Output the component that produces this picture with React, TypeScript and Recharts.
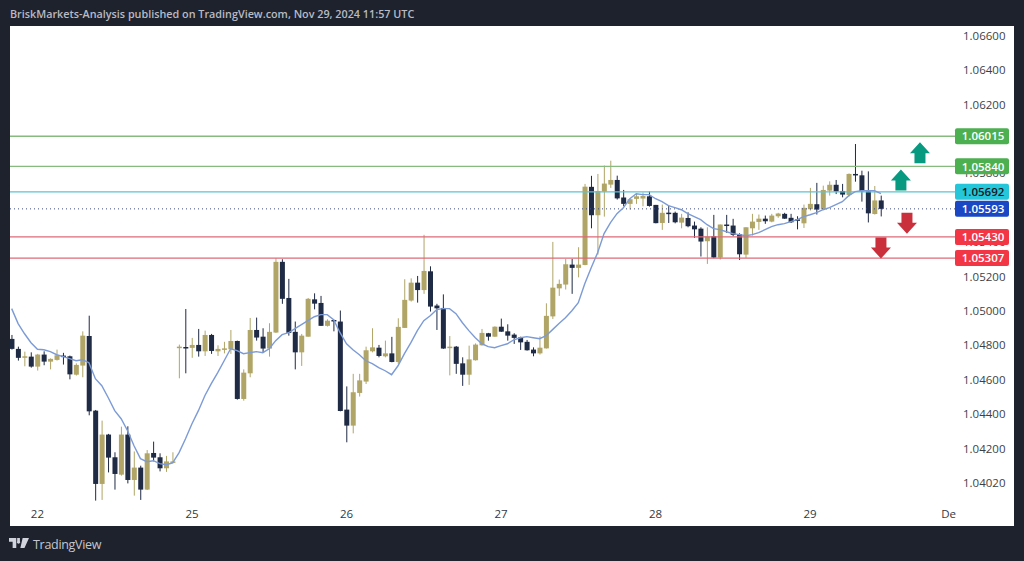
import React from "react";
import { ComposedChart, Bar, Line, XAxis, YAxis, ReferenceLine, ReferenceDot } from "recharts";

// prices in points (1 point = 0.00001), one entry per hourly candle
const opens = [
  104837, 104779, 104730, 104734, 104676, 104746, 104705, 104715, 104740, 104736, 104629, 104682,
  104854, 104420, 103994, 104281, 104149, 104048, 104281, 104017, 104089, 103961, 104174, 104149,
  104085, 104122, 104788, 104790, 104785, 104802, 104765, 104860, 104765, 104777, 104777, 104825,
  104488, 104637, 104889, 104850, 104781, 104874, 105285, 105075, 104878, 104759, 104850, 105067,
  105046, 104913, 104947, 104938, 104426, 104333, 104523, 104589, 104765, 104786, 104736, 104753,
  104703, 104901, 105060, 105164, 105121, 105230, 105031, 105017, 104786, 104792, 104695, 104629,
  104713, 104800, 104870, 104850, 104908, 104881, 104862, 104846, 104820, 104775, 104753, 104782,
  104968, 105131, 105153, 105269, 105250, 105267, 105721, 105556, 105693, 105734, 105761, 105659,
  105622, 105651, 105653, 105666, 105616, 105511, 105571, 105570, 105513, 105540, 105496, 105478,
  105405, 105434, 105310, 105502, 105496, 105445, 105327, 105480, 105517, 105536, 105519, 105550,
  105564, 105541, 105532, 105509, 105591, 105620, 105591, 105699, 105733, 105697, 105674, 105796,
  105788, 105695, 105563, 105642,
];
const closes = [
  104779, 104727, 104736, 104676, 104746, 104705, 104721, 104742, 104734, 104631, 104686, 104856,
  104416, 103994, 104281, 104147, 104052, 104281, 104017, 104089, 103961, 104172, 104147, 104085,
  104125, 104125, 104792, 104785, 104802, 104765, 104860, 104767, 104779, 104782, 104825, 104488,
  104641, 104889, 104845, 104781, 104878, 105285, 105070, 104872, 104759, 104856, 105070, 105042,
  104913, 104943, 104943, 104418, 104333, 104527, 104596, 104771, 104788, 104738, 104753, 104703,
  104907, 105064, 105164, 105121, 105232, 105025, 105015, 104781, 104792, 104692, 104629, 104718,
  104804, 104872, 104850, 104908, 104879, 104856, 104843, 104817, 104771, 104753, 104786, 104971,
  105135, 105157, 105271, 105250, 105269, 105722, 105556, 105697, 105740, 105761, 105654, 105622,
  105649, 105666, 105668, 105610, 105510, 105570, 105567, 105515, 105542, 105492, 105474, 105403,
  105432, 105310, 105502, 105494, 105442, 105329, 105486, 105519, 105536, 105521, 105554, 105566,
  105536, 105515, 105525, 105599, 105622, 105589, 105703, 105733, 105694, 105676, 105796, 105788,
  105695, 105567, 105642, 105593,
];
const highs = [
  104860, 104792, 104763, 104759, 104750, 104765, 104724, 104775, 104756, 104740, 104695, 104881,
  104972, 104424, 104362, 104285, 104178, 104327, 104329, 104183, 104100, 104191, 104240, 104172,
  104157, 104178, 104804, 105011, 104843, 104895, 104885, 104866, 104800, 104820, 104889, 104827,
  104660, 104959, 104961, 104899, 104928, 105306, 105300, 105186, 104938, 104866, 105075, 105102,
  105087, 104951, 104949, 105002, 104561, 104634, 104634, 104792, 104899, 104802, 104827, 104849,
  104957, 105184, 105189, 105203, 105442, 105259, 105041, 105096, 104854, 104796, 104730, 104798,
  104811, 104895, 104872, 104910, 104955, 104922, 104870, 104850, 104831, 104788, 104852, 105044,
  105401, 105182, 105302, 105302, 105370, 105738, 105785, 105796, 105845, 105873, 105786, 105703,
  105654, 105680, 105688, 105694, 105616, 105618, 105612, 105577, 105564, 105573, 105519, 105486,
  105486, 105558, 105502, 105558, 105535, 105451, 105486, 105564, 105560, 105554, 105564, 105570,
  105570, 105564, 105550, 105618, 105715, 105744, 105728, 105753, 105761, 105738, 105799, 105970,
  105815, 105811, 105726, 105670,
];
const lows = [
  104775, 104711, 104678, 104670, 104653, 104684, 104660, 104711, 104688, 104602, 104624, 104614,
  104393, 103897, 103901, 104061, 103961, 104042, 103997, 103926, 103901, 103959, 104125, 104067,
  104064, 104114, 104608, 104637, 104727, 104734, 104738, 104750, 104738, 104753, 104750, 104484,
  104478, 104614, 104827, 104756, 104734, 104872, 105041, 104856, 104660, 104680, 104850, 105009,
  104913, 104909, 104881, 104416, 104236, 104288, 104502, 104575, 104759, 104730, 104730, 104701,
  104692, 104901, 105054, 105048, 105099, 104996, 104889, 104779, 104625, 104634, 104564, 104570,
  104711, 104798, 104827, 104849, 104878, 104827, 104808, 104773, 104769, 104736, 104746, 104781,
  104953, 105087, 105124, 105099, 105195, 105265, 105480, 105327, 105548, 105715, 105647, 105608,
  105589, 105622, 105608, 105606, 105509, 105471, 105511, 105509, 105480, 105486, 105424, 105316,
  105273, 105306, 105298, 105453, 105434, 105296, 105308, 105438, 105471, 105506, 105515, 105541,
  105535, 105511, 105474, 105482, 105583, 105560, 105588, 105670, 105679, 105660, 105664, 105751,
  105635, 105514, 105560, 105549,
];
const average = [
  105013, 104926, 104867, 104815, 104777, 104774, 104763, 104745, 104734, 104722, 104710, 104716,
  104699, 104606, 104565, 104495, 104420, 104373, 104303, 104216, 104141, 104123, 104129, 104112,
  104106, 104117, 104176, 104257, 104344, 104420, 104507, 104577, 104641, 104710, 104780, 104769,
  104751, 104757, 104763, 104757, 104780, 104827, 104862, 104873, 104897, 104920, 104943, 104966,
  104978, 104978, 104949, 104873, 104809, 104774, 104745, 104710, 104693, 104670, 104652, 104629,
  104681, 104751, 104815, 104885, 104943, 104972, 105007, 105013, 105013, 104984, 104931, 104885,
  104844, 104809, 104792, 104786, 104798, 104809, 104832, 104844, 104850, 104844, 104838, 104856,
  104891, 104926, 104960, 105001, 105048, 105158, 105251, 105338, 105449, 105513, 105565, 105600,
  105652, 105681, 105676, 105676, 105652, 105635, 105612, 105600, 105588, 105565, 105548, 105530,
  105501, 105478, 105472, 105460, 105449, 105443, 105437, 105443, 105455, 105472, 105490, 105501,
  105507, 105519, 105530, 105548, 105559, 105571, 105588, 105600, 105618, 105635, 105670, 105693,
  105699, 105699, 105699, 105681,
];

// 1.06000 and 1.05600 sit fully behind the price tags in the picture
const priceTicks = [1.04, 1.042, 1.044, 1.046, 1.048, 1.05, 1.052, 1.054, 1.058, 1.062, 1.064, 1.066];
const priceLabels = ["1.04020", "1.04200", "1.04400", "1.04600", "1.04800", "1.05000", "1.05200", "1.05400", "1.05800", "1.06200", "1.06400", "1.06600"];
const dayTicks = [4, 28, 52, 76, 100, 124, 145.5];
const dayLabels = ["22", "25", "26", "27", "28", "29", "De"];

const levels = [
  { price: 1.06015, line: "#86bb7f", tag: "#4caf50", text: "#ffffff" },
  { price: 1.0584, line: "#86bb7f", tag: "#4caf50", text: "#ffffff" },
  { price: 1.05692, line: "#5cc3d3", tag: "#26c6da", text: "#131722" },
  { price: 1.0543, line: "#dc6a78", tag: "#f23645", text: "#ffffff" },
  { price: 1.05307, line: "#dc6a78", tag: "#f23645", text: "#ffffff" },
];
const lastPrice = 1.05593;

const arrows = [
  { i: 141.06, price: 1.05919, up: true },
  { i: 138.1, price: 1.05761, up: true },
  { i: 139.04, price: 1.0551, up: false },
  { i: 135, price: 1.05365, up: false },
];

const GOLD = "#b0a566";
const NAVY = "#1f2a44";
const X_DOMAIN = [-0.26, 146.5];
const Y_DOMAIN = [1.03889, 1.06656];

const rows = opens.map((o, i) => ({
  i,
  open: o / 1e5,
  close: closes[i] / 1e5,
  high: highs[i] / 1e5,
  low: lows[i] / 1e5,
  range: [lows[i] / 1e5, highs[i] / 1e5],
  ma: average[i] / 1e5,
}));

// y and height of the bar span high..low, the body is worked out from them
const Candle = (props: any) => {
  const { x, y, width, height, payload } = props;
  const { open, close, high, low } = payload;
  const perPrice = height / (high - low);
  const top = y + (high - Math.max(open, close)) * perPrice;
  const bottom = y + (high - Math.min(open, close)) * perPrice;
  const color = close >= open ? GOLD : NAVY;
  const cx = x + width / 2;
  return (
    <g>
      <line x1={cx} x2={cx} y1={y} y2={y + height} stroke={color} strokeWidth={1} />
      <rect x={x} y={top} width={width} height={Math.max(bottom - top, 1.5)} fill={color} />
    </g>
  );
};

const PriceTag = ({ viewBox, value, fill, color }: any) => {
  const x = viewBox.x + viewBox.width;
  return (
    <g>
      <rect x={x} y={viewBox.y - 8} width={54} height={16} rx={2} fill={fill} />
      <text x={x + 28} y={viewBox.y + 4.2} textAnchor="middle" fontSize={11.5} fontFamily="Open Sans" fontWeight={600} fill={color}>
        {value}
      </text>
    </g>
  );
};

const Arrow = ({ cx, cy, up }: any) => {
  const s = up ? 1 : -1;
  const d = `M ${cx} ${cy - 10.5 * s} L ${cx + 10 * s} ${cy + 0.5 * s} L ${cx + 5.5 * s} ${cy + 0.5 * s} L ${cx + 5.5 * s} ${cy + 10.5 * s} L ${cx - 5.5 * s} ${cy + 10.5 * s} L ${cx - 5.5 * s} ${cy + 0.5 * s} L ${cx - 10 * s} ${cy + 0.5 * s} Z`;
  return <path d={d} fill={up ? "#089981" : "#c9303c"} />;
};

export default function App() {
  return (
    <div style={{ position: "absolute", left: 0, top: 0, width: 1024, height: 561, background: "#1e222d", overflow: "hidden" }}>
      <div style={{ position: "absolute", left: 10, top: 6, fontFamily: "Open Sans", fontSize: 10.8, fontWeight: 600, color: "#b8bbc4", whiteSpace: "nowrap" }}>
        BriskMarkets-Analysis published on TradingView.com, Nov 29, 2024 11:57 UTC
      </div>
      <div style={{ position: "absolute", left: 10, top: 26, width: 1004, height: 500, background: "#ffffff" }}>
        <ComposedChart width={1004} height={500} data={rows} margin={{ top: 0, right: 0, bottom: 0, left: 0 }}>
          <XAxis
            dataKey="i"
            type="number"
            domain={X_DOMAIN}
            allowDataOverflow
            ticks={dayTicks}
            interval={0}
            axisLine={false}
            tickLine={false}
            height={24}
            tick={{ fontSize: 11.5, fill: "#333842", fontFamily: "Open Sans" }}
            tickFormatter={(v) => dayLabels[dayTicks.indexOf(v)]}
          />
          <YAxis
            orientation="right"
            width={59}
            domain={Y_DOMAIN}
            allowDataOverflow
            ticks={priceTicks}
            interval={0}
            axisLine={false}
            tickLine={false}
            tickMargin={2}
            tick={{ fontSize: 11.5, fill: "#3a3f4a", fontFamily: "Open Sans" }}
            tickFormatter={(v) => priceLabels[priceTicks.indexOf(v)]}
          />
          {levels.map((l) => (
            <ReferenceLine key={l.price} y={l.price} stroke={l.line} strokeWidth={1.3} />
          ))}
          <ReferenceLine y={lastPrice} stroke="#3c4a86" strokeDasharray="1 3" />
          <Line dataKey="ma" stroke="#7c9bd6" strokeWidth={1.4} dot={false} isAnimationActive={false} type="linear" />
          <Bar dataKey="range" barSize={5} shape={<Candle />} isAnimationActive={false} />
          {arrows.map((a) => (
            <ReferenceDot key={a.i} x={a.i} y={a.price} r={10} shape={(p: any) => <Arrow cx={p.cx} cy={p.cy} up={a.up} />} />
          ))}
        </ComposedChart>
      </div>
      {/* second transparent chart so the price tags lie on top of the axis labels */}
      <div style={{ position: "absolute", left: 10, top: 26, width: 1004, height: 500 }}>
        <ComposedChart width={1004} height={500} data={rows} margin={{ top: 0, right: 59, bottom: 24, left: 0 }}>
          <XAxis dataKey="i" type="number" domain={X_DOMAIN} allowDataOverflow hide />
          <YAxis domain={Y_DOMAIN} allowDataOverflow hide />
          {levels.map((l) => (
            <ReferenceLine
              key={l.price}
              y={l.price}
              stroke="none"
              label={<PriceTag value={l.price.toFixed(5)} fill={l.tag} color={l.text} />}
            />
          ))}
          <ReferenceLine
            y={lastPrice}
            stroke="none"
            label={<PriceTag value={lastPrice.toFixed(5)} fill="#1a47c4" color="#ffffff" />}
          />
        </ComposedChart>
      </div>
      <svg style={{ position: "absolute", left: 9, top: 538 }} width={20} height={11} viewBox="0 0 22 12">
        <path d="M0 0 H8 V11 H4 V4 H0 Z M9 0 H12 L12 3.5 A1.8 1.8 0 1 1 9 3.5 Z M15 0 H22 L17 11 H12.5 Z" fill="#d1d4dc" />
      </svg>
      <div style={{ position: "absolute", left: 33, top: 536, fontFamily: "Open Sans", fontSize: 12.5, letterSpacing: -0.3, color: "#c4c7cf", whiteSpace: "nowrap" }}>
        TradingView
      </div>
    </div>
  );
}
